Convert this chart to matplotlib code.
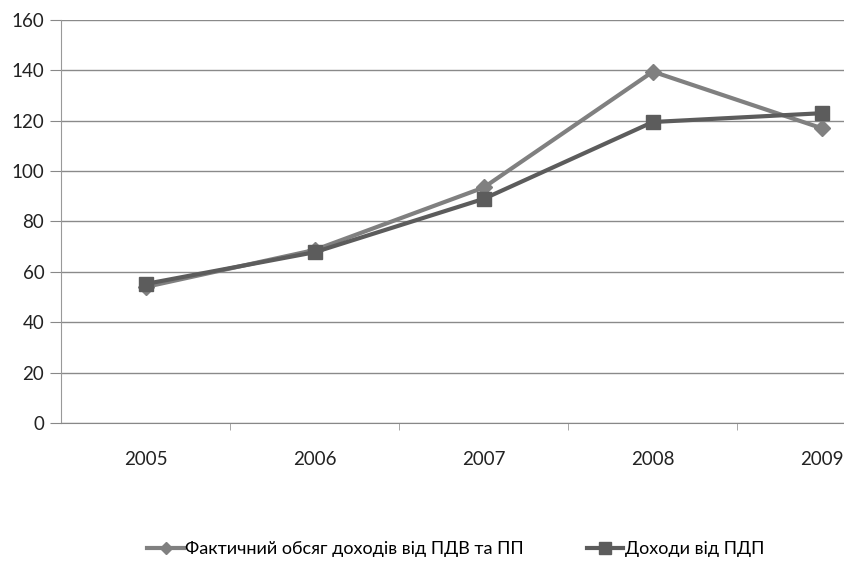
import matplotlib.pyplot as plt
from matplotlib.ticker import FixedLocator

years = ['2005', '2006', '2007', '2008', '2009']
vat_actual = [54, 68.7, 93.5, 139.5, 117]
pit_income = [55.2, 67.8, 89, 119.5, 123]
label_vat = 'Фактичний обсяг доходів від ПДВ та ПП'
label_pit = 'Доходи від ПДП'

plt.rcParams['font.family'] = ['Lato', 'DejaVu Sans']

fig = plt.figure(figsize=(8.45, 5.61), dpi=100)
ax = fig.add_axes([61 / 845, 138 / 561, (845 - 61) / 845, 403 / 561])

x = list(range(len(years)))
ax.plot(x, vat_actual, color='#808080', lw=3, marker='D', ms=8,
        label=label_vat, zorder=3)
ax.plot(x, pit_income, color='#5c5c5c', lw=3, marker='s', ms=10,
        label=label_pit, zorder=4)

ax.set_ylim(0, 160)
ax.set_yticks(range(0, 161, 20))
ax.set_xlim(-0.5, 4 + 23 / 169)
ax.set_xticks(x)
ax.set_xticklabels(years)
ax.xaxis.set_minor_locator(FixedLocator([0.5, 1.5, 2.5, 3.5]))
ax.tick_params(axis='x', which='major', length=0, pad=20, labelsize=13.5, colors='#222222')
ax.tick_params(axis='x', which='minor', length=5, color='#999999', direction='out')
ax.tick_params(axis='y', length=8, color='#888888', labelsize=13.5, pad=4, labelcolor='#222222')

ax.grid(axis='y', color='#8a8a8a', lw=1)
ax.set_axisbelow(True)
for s in ['top', 'right']:
    ax.spines[s].set_visible(False)
ax.spines['left'].set_color('#999999')
ax.spines['bottom'].set_color('#888888')

fig.legend(loc='center', bbox_to_anchor=(456 / 845, 1 - 549 / 561), ncol=2,
           frameon=False, fontsize=13, handlelength=2.0, handletextpad=0.1,
           columnspacing=3.5, markerscale=0.8)

fig.savefig('out.png', dpi=100)
